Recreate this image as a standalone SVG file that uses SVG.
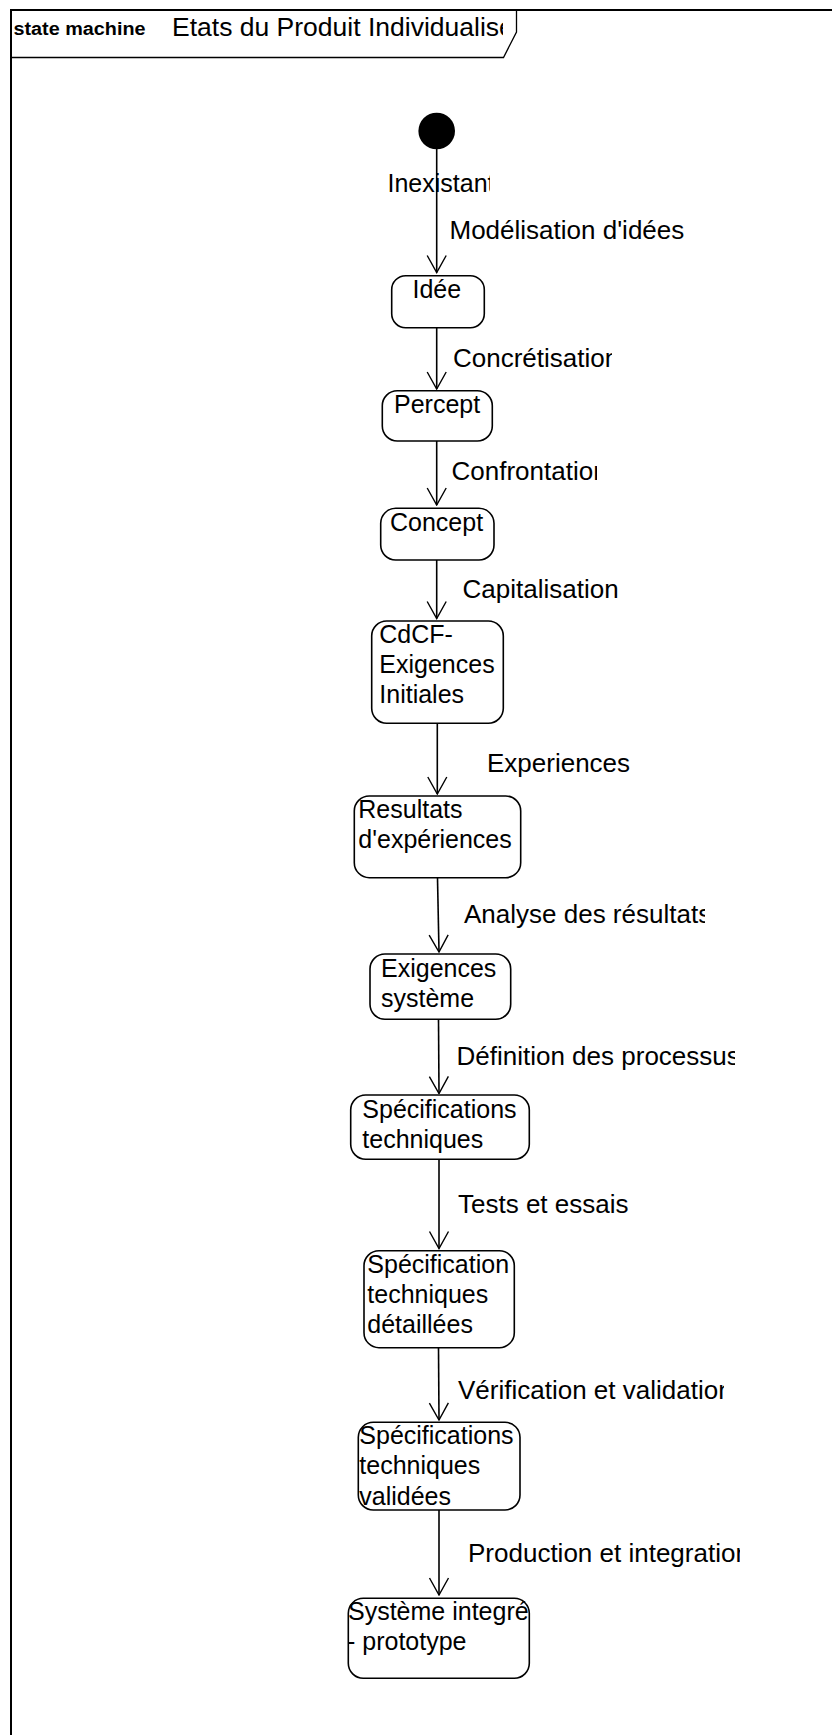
<svg xmlns="http://www.w3.org/2000/svg" width="832" height="1735" viewBox="0 0 832 1735">
<style>
.t{font-family:"Liberation Sans",Arial,sans-serif;font-size:25px;fill:#000}
.l{font-family:"Liberation Sans",Arial,sans-serif;font-size:26px;fill:#000}
.b{fill:#fff;stroke:#000;stroke-width:1.6}
.c{stroke:#000;stroke-width:1.6;fill:none}
.f{stroke:#000;stroke-width:2;fill:none}
</style>
<defs>
<marker id="ah" viewBox="-19 -11 20 22" refX="0" refY="0" markerWidth="20" markerHeight="22" markerUnits="userSpaceOnUse" orient="auto">
<path d="M-17,-9.5 L0,0 L-17,9.5" fill="none" stroke="#000" stroke-width="1.4"/>
</marker>
<clipPath id="cTitle"><rect x="150" y="12" width="353" height="44"/></clipPath>
<clipPath id="cInex"><rect x="380" y="160" width="110" height="40"/></clipPath>
<clipPath id="cConc"><rect x="445" y="340" width="167" height="40"/></clipPath>
<clipPath id="cConf"><rect x="445" y="455" width="152" height="40"/></clipPath>
<clipPath id="cAna"><rect x="455" y="895" width="250" height="40"/></clipPath>
<clipPath id="cDef"><rect x="450" y="1035" width="285" height="40"/></clipPath>
<clipPath id="cVer"><rect x="450" y="1370" width="274" height="40"/></clipPath>
<clipPath id="cProd"><rect x="460" y="1532" width="280" height="40"/></clipPath>
<clipPath id="cSpecDet"><rect x="364" y="1250" width="145" height="98"/></clipPath>
<clipPath id="cSys"><rect x="348.3" y="1598" width="200" height="81"/></clipPath>
</defs>
<rect x="0" y="0" width="832" height="1735" fill="#fff"/>
<g id="frame">
<path class="f" d="M11,1735 L11,10 L832,10"/>
<path d="M11,57.5 L503.5,57.5 L516.5,32 L516.5,10" fill="none" stroke="#000" stroke-width="1.3"/>
<text x="13.5" y="35" font-family="Liberation Sans,Arial,sans-serif" font-size="18" font-weight="bold" textLength="132" lengthAdjust="spacingAndGlyphs">state machine</text>
<text x="172" y="36" font-family="Liberation Sans,Arial,sans-serif" font-size="26.5" clip-path="url(#cTitle)">Etats du Produit Individualisé</text>
</g>
<g id="labels">
<text class="t" x="387.5" y="191.5" clip-path="url(#cInex)">Inexistant</text>
<text class="l" x="449.5" y="239">Modélisation d'idées</text>
<text class="l" x="453" y="366.5" clip-path="url(#cConc)">Concrétisation</text>
<text class="l" x="451.5" y="480" clip-path="url(#cConf)">Confrontation</text>
<text class="l" x="462.5" y="598">Capitalisation</text>
<text class="l" x="487" y="771.5">Experiences</text>
<text class="l" x="464" y="923" clip-path="url(#cAna)">Analyse des résultats</text>
<text class="l" x="456.5" y="1065" clip-path="url(#cDef)">Définition des processus</text>
<text class="l" x="458" y="1212.5">Tests et essais</text>
<text class="l" x="458" y="1399" clip-path="url(#cVer)">Vérification et validation</text>
<text class="l" x="468" y="1561.5" clip-path="url(#cProd)">Production et integration</text>
</g>
<g id="connectors">
<line class="c" x1="436.7" y1="148" x2="436.7" y2="272.5" marker-end="url(#ah)"/>
<line class="c" x1="436.7" y1="328" x2="436.7" y2="389" marker-end="url(#ah)"/>
<line class="c" x1="436.7" y1="441" x2="436.7" y2="505" marker-end="url(#ah)"/>
<line class="c" x1="436.7" y1="560" x2="436.7" y2="618.5" marker-end="url(#ah)"/>
<line class="c" x1="437.3" y1="723.5" x2="437.3" y2="794" marker-end="url(#ah)"/>
<line class="c" x1="437.5" y1="878" x2="439" y2="952" marker-end="url(#ah)"/>
<line class="c" x1="438.5" y1="1019.5" x2="439" y2="1093.5" marker-end="url(#ah)"/>
<line class="c" x1="439" y1="1159.5" x2="439" y2="1248.5" marker-end="url(#ah)"/>
<line class="c" x1="438.5" y1="1348" x2="439" y2="1420" marker-end="url(#ah)"/>
<line class="c" x1="439" y1="1510" x2="439" y2="1595" marker-end="url(#ah)"/>
</g>
<g id="initial"><circle cx="436.7" cy="131" r="18.3" fill="#000"/></g>
<g id="idee">
<rect class="b" x="391.7" y="275.7" width="92.6" height="52" rx="14"/>
<text class="t" x="412.5" y="298">Idée</text>
</g>
<g id="percept">
<rect class="b" x="382.3" y="390.7" width="110" height="50.3" rx="15"/>
<text class="t" x="394" y="413">Percept</text>
</g>
<g id="concept">
<rect class="b" x="380.7" y="508.3" width="113.3" height="51.7" rx="15"/>
<text class="t" x="390" y="530.5">Concept</text>
</g>
<g id="cdcf">
<rect class="b" x="371.7" y="621" width="131.6" height="102.3" rx="15"/>
<text class="t" x="379.3" y="643.3">CdCF-</text>
<text class="t" x="379.3" y="673.3">Exigences</text>
<text class="t" x="379.3" y="703.3">Initiales</text>
</g>
<g id="resultats">
<rect class="b" x="354.3" y="796" width="166.4" height="81.7" rx="15"/>
<text class="t" x="358.3" y="818.3">Resultats</text>
<text class="t" x="358.3" y="848.3">d'expériences</text>
</g>
<g id="exigences">
<rect class="b" x="370" y="954" width="140.7" height="65.3" rx="15"/>
<text class="t" x="381" y="976.7">Exigences</text>
<text class="t" x="381" y="1006.7">système</text>
</g>
<g id="spectech">
<rect class="b" x="350.7" y="1095" width="178.6" height="64.3" rx="15"/>
<text class="t" x="362.3" y="1118.3">Spécifications</text>
<text class="t" x="362.3" y="1148.3">techniques</text>
</g>
<g id="specdet">
<rect class="b" x="364" y="1250.7" width="150.3" height="97" rx="15"/>
<g clip-path="url(#cSpecDet)">
<text class="t" x="367.3" y="1273.3">Spécifications</text>
<text class="t" x="367.3" y="1303.3">techniques</text>
<text class="t" x="367.3" y="1333.3">détaillées</text>
</g>
</g>
<g id="specval">
<rect class="b" x="358.3" y="1422.3" width="161.7" height="87.7" rx="15"/>
<text class="t" x="359.3" y="1444.3">Spécifications</text>
<text class="t" x="359.3" y="1474.3">techniques</text>
<text class="t" x="359.3" y="1504.5">validées</text>
</g>
<g id="systeme">
<rect class="b" x="348.3" y="1598.3" width="181" height="80" rx="15"/>
<g clip-path="url(#cSys)">
<text class="t" x="348" y="1620">Système integré</text>
<text class="t" x="347" y="1650">- prototype</text>
</g>
</g>
</svg>
